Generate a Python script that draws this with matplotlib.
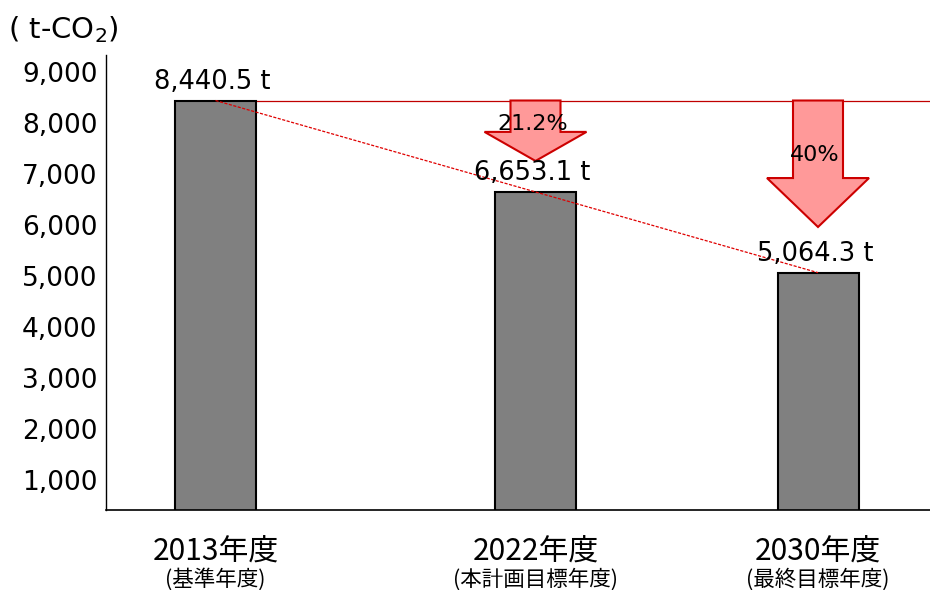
import matplotlib
matplotlib.use("Agg")
import matplotlib.pyplot as plt
from matplotlib.patches import Polygon
from matplotlib.ticker import FuncFormatter

plt.rcParams['font.family'] = ['DejaVu Sans', 'Noto Sans CJK JP']

# ---- data ----
years = ['2013年度', '2022年度', '2030年度']
sub_labels = ['(基準年度)', '(本計画目標年度)', '(最終目標年度)']
values = [8440.5, 6653.1, 5064.3]
value_labels = ['8,440.5 t', '6,653.1 t', '5,064.3 t']
pct_labels = ['21.2%', '40%']
yticks = [1000, 2000, 3000, 4000, 5000, 6000, 7000, 8000, 9000]

# ---- layout ----
xpos = [1.095, 4.295, 7.12]
bar_w = 0.81
arrow_tips = [7255, 5960]
arrow_head_len = [570, 960]
pct_y = [7980, 7370]

fig = plt.figure(figsize=(9.3, 5.9), dpi=100)
ax = fig.add_axes([106/930, 1-510/590, (930-106)/930, (510-55)/590])
ax.set_xlim(0, 8.24)
ax.set_ylim(410, 9333)

# reference line and trend line
ax.hlines(values[0], xpos[0], 8.24, color='#C00000', lw=0.9, zorder=1)
ax.plot([xpos[0], xpos[2]], [values[0], values[2]], color='#E00000', lw=0.9,
        dashes=(2.5, 1.2), zorder=4)

ax.bar(xpos, values, width=bar_w, bottom=0, color='#808080', edgecolor='black',
       linewidth=1.5, zorder=2)

for x, v, lab in zip(xpos, values, value_labels):
    ax.annotate(lab, (x - 0.03, v), xytext=(0, 4), textcoords='offset points',
                ha='center', va='bottom', fontsize=18.5, color='black', zorder=6)

# arrows
sw, hw = 0.25, 0.51
for i, (tip, hl, lab, py) in enumerate(zip(arrow_tips, arrow_head_len, pct_labels, pct_y)):
    x = xpos[i + 1]
    top = values[0]
    base = tip + hl
    verts = [(x - sw, top), (x + sw, top), (x + sw, base), (x + hw, base),
             (x, tip), (x - hw, base), (x - sw, base)]
    ax.add_patch(Polygon(verts, closed=True, facecolor='#FF9999',
                         edgecolor='#CC0000', lw=1.5, zorder=3))
    ax.text(x - 0.03, py, lab, ha='center', va='center', fontsize=16,
            color='black', zorder=6)

ax.set_yticks(yticks)
ax.yaxis.set_major_formatter(FuncFormatter(lambda v, p: f'{int(v):,}'))
ax.tick_params(axis='y', length=0, pad=6, labelsize=19)
ax.set_xticks([])
for s in ['top', 'right']:
    ax.spines[s].set_visible(False)
ax.spines['left'].set_linewidth(1.0)
ax.spines['bottom'].set_linewidth(1.2)

trans = ax.get_xaxis_transform()
for x, yl, sl in zip(xpos, years, sub_labels):
    ax.text(x, -0.093, yl, transform=trans, ha='center', va='center',
            fontsize=21.5, family=['Noto Sans CJK JP', 'DejaVu Sans'])
    ax.text(x, -0.152, sl, transform=trans, ha='center', va='center',
            fontsize=15.5, family=['Noto Sans CJK JP', 'DejaVu Sans'])

fig.text(8/930, 1-30/590, '( t-CO$_2$)', ha='left', va='center', fontsize=21)

fig.savefig('out.png', dpi=100)
